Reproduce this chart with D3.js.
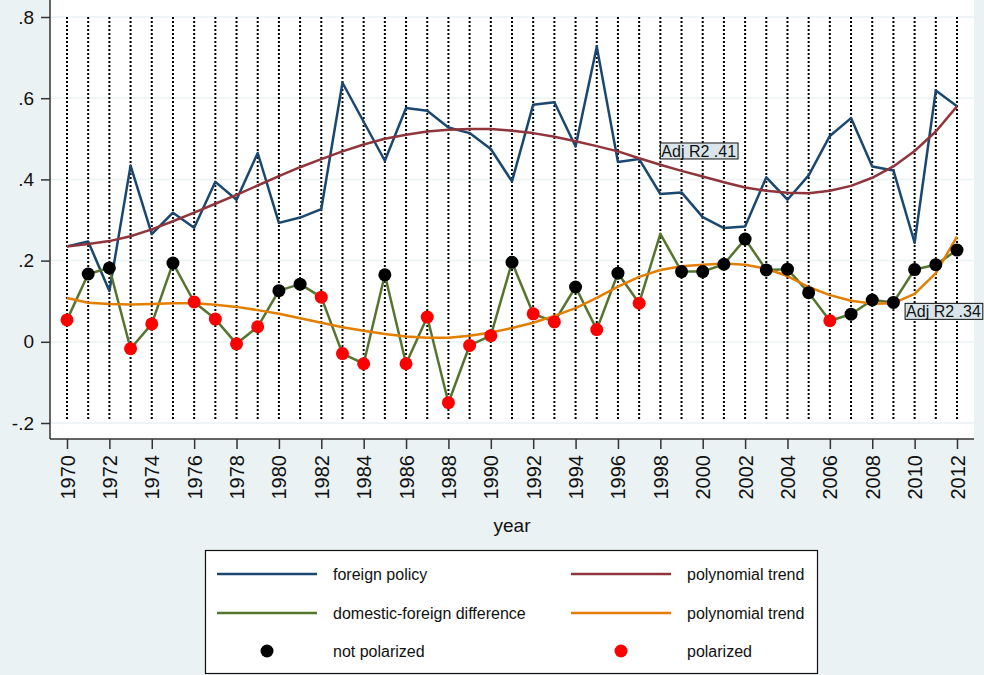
<!DOCTYPE html>
<html>
<head>
<meta charset="utf-8">
<script src="https://cdn.jsdelivr.net/npm/d3@7"></script>
<style>
  body { margin: 0; background: #eaf2f3; }
  svg { display: block; font-family: Arial, "Liberation Sans", sans-serif; }
</style>
</head>
<body>
<svg id="chart"></svg>
<script>
// Data
const years = [1970, 1971, 1972, 1973, 1974, 1975, 1976, 1977, 1978, 1979,
  1980, 1981, 1982, 1983, 1984, 1985, 1986, 1987, 1988, 1989,
  1990, 1991, 1992, 1993, 1994, 1995, 1996, 1997, 1998, 1999,
  2000, 2001, 2002, 2003, 2004, 2005, 2006, 2007, 2008, 2009,
  2010, 2011, 2012];

const foreignPolicy = [0.235, 0.247, 0.125, 0.434, 0.265, 0.318, 0.281, 0.394, 0.35, 0.465,
  0.293, 0.306, 0.327, 0.638, 0.542, 0.446, 0.576, 0.569, 0.528, 0.514,
  0.475, 0.395, 0.584, 0.59, 0.481, 0.727, 0.443, 0.45, 0.364, 0.368,
  0.307, 0.28, 0.284, 0.405, 0.35, 0.41, 0.507, 0.551, 0.432, 0.422,
  0.244, 0.619, 0.58];

const foreignTrend = [0.235, 0.241, 0.248, 0.26, 0.277, 0.297, 0.318, 0.34, 0.362, 0.385,
  0.408, 0.43, 0.45, 0.469, 0.486, 0.5, 0.51, 0.518, 0.522, 0.524,
  0.524, 0.52, 0.514, 0.505, 0.494, 0.482, 0.469, 0.452, 0.436, 0.421,
  0.407, 0.393, 0.38, 0.372, 0.367, 0.366, 0.372, 0.384, 0.404, 0.432,
  0.47, 0.518, 0.58];

const difference = [0.054, 0.167, 0.182, -0.017, 0.044, 0.194, 0.098, 0.056, -0.005, 0.037,
  0.126, 0.142, 0.11, -0.029, -0.054, 0.165, -0.054, 0.061, -0.15, -0.009,
  0.015, 0.196, 0.069, 0.049, 0.135, 0.03, 0.169, 0.095, 0.266, 0.173,
  0.173, 0.191, 0.253, 0.177, 0.179, 0.121, 0.052, 0.068, 0.103, 0.097,
  0.178, 0.19, 0.226];

const differenceTrend = [0.108, 0.096, 0.093, 0.092, 0.093, 0.095, 0.095, 0.091, 0.086, 0.078,
  0.069, 0.058, 0.047, 0.036, 0.027, 0.019, 0.013, 0.01, 0.01, 0.015,
  0.023, 0.034, 0.047, 0.064, 0.083, 0.108, 0.136, 0.16, 0.177, 0.186,
  0.19, 0.193, 0.19, 0.18, 0.162, 0.135, 0.115, 0.101, 0.094, 0.095,
  0.118, 0.169, 0.259];

// "n" = not polarized, "p" = polarized, "" = no marker
const polarization = ["p", "n", "n", "p", "p", "n", "p", "p", "p", "p",
  "n", "n", "p", "p", "p", "n", "p", "p", "p", "p",
  "p", "n", "p", "p", "n", "p", "n", "p", "", "n",
  "n", "n", "n", "n", "n", "n", "p", "n", "n", "n",
  "n", "n", "n"];

const xTicks = [1970, 1972, 1974, 1976, 1978, 1980, 1982, 1984, 1986, 1988, 1990,
  1992, 1994, 1996, 1998, 2000, 2002, 2004, 2006, 2008, 2010, 2012];
const yTicks = [-0.2, 0, 0.2, 0.4, 0.6, 0.8];
const yTickLabels = ["-.2", "0", ".2", ".4", ".6", ".8"];

const annotations = [
  { year: 1998, value: 0.47, text: "Adj R2 .41" },
  { year: 2009.55, value: 0.075, text: "Adj R2 .34" }
];

const legendItems = [
  { label: "foreign policy", type: "line", color: "#1a476f" },
  { label: "polynomial trend", type: "line", color: "#90353b" },
  { label: "domestic-foreign difference", type: "line", color: "#55752f" },
  { label: "polynomial trend", type: "line", color: "#e37e00" },
  { label: "not polarized", type: "dot", color: "#000000" },
  { label: "polarized", type: "dot", color: "#ff0000" }
];

const width = 984, height = 675;
const plot = { left: 50, right: 974, top: 0, bottom: 439 };

const svg = d3.select("#chart").attr("width", width).attr("height", height);

svg.append("rect").attr("width", width).attr("height", height).attr("fill", "#eaf2f3");
svg.append("rect")
  .attr("x", plot.left).attr("y", plot.top)
  .attr("width", plot.right - plot.left).attr("height", plot.bottom - plot.top)
  .attr("fill", "white");

const x = d3.scaleLinear().domain([1970, 2012]).range([67, 957]);
const y = d3.scaleLinear().domain([-0.2, 0.8]).range([423, 17]);

// horizontal gridlines
svg.selectAll(".grid")
  .data(yTicks)
  .enter()
  .append("line")
  .attr("class", "grid")
  .attr("x1", plot.left).attr("x2", plot.right)
  .attr("y1", (d) => y(d)).attr("y2", (d) => y(d))
  .attr("stroke", "#eaf2f3")
  .attr("stroke-width", 1.5);

// dotted year lines
svg.selectAll(".drop")
  .data(years)
  .enter()
  .append("line")
  .attr("class", "drop")
  .attr("x1", (d) => x(d)).attr("x2", (d) => x(d))
  .attr("y1", y(0.8)).attr("y2", y(-0.19))
  .attr("stroke", "black")
  .attr("stroke-width", 2)
  .attr("stroke-dasharray", "2,2");

const line = (vals) => d3.line()
  .x((d, i) => x(years[i]))
  .y((d) => y(d))(vals);

const series = [
  { vals: foreignPolicy, color: "#1a476f" },
  { vals: foreignTrend, color: "#90353b" },
  { vals: difference, color: "#55752f" },
  { vals: differenceTrend, color: "#e37e00" }
];

series.forEach(function (s) {
  svg.append("path")
    .attr("d", line(s.vals))
    .attr("fill", "none")
    .attr("stroke", s.color)
    .attr("stroke-width", 2.5)
    .attr("stroke-linejoin", "round");
});

svg.selectAll(".marker")
  .data(years.filter((d, i) => polarization[i] !== ""))
  .enter()
  .append("circle")
  .attr("class", "marker")
  .attr("cx", (d) => x(d))
  .attr("cy", (d) => y(difference[years.indexOf(d)]))
  .attr("r", 6.5)
  .attr("fill", (d) => polarization[years.indexOf(d)] === "p" ? "#ff0000" : "#000000");

// annotations
annotations.forEach(function (a) {
  const g = svg.append("g").attr("transform", `translate(${x(a.year)}, ${y(a.value)})`);
  const t = g.append("text")
    .attr("x", 1)
    .attr("dy", "0.36em")
    .attr("font-size", "16px")
    .attr("fill", "#111")
    .text(a.text);
  const w = t.node().getComputedTextLength();
  g.insert("rect", "text")
    .attr("x", 0).attr("y", -8)
    .attr("width", w + 3).attr("height", 16)
    .attr("fill", "#d9e5ea")
    .attr("stroke", "#111")
    .attr("stroke-width", 1);
});

// axes
const yAxis = svg.append("g")
  .attr("transform", `translate(${plot.left}, 0)`)
  .call(d3.axisLeft(y).tickValues(yTicks).tickSize(9).tickPadding(7)
    .tickFormat((d, i) => yTickLabels[i]));
yAxis.select(".domain").remove();
yAxis.selectAll("line").attr("stroke", "#333").attr("stroke-width", 1.5);
yAxis.selectAll("text").attr("font-size", "19px").attr("fill", "#111").attr("font-family", "Arial, 'Liberation Sans', sans-serif");

const xAxis = svg.append("g")
  .attr("transform", `translate(0, ${plot.bottom})`)
  .call(d3.axisBottom(x).tickValues(xTicks).tickSize(10).tickFormat(d3.format("d")));
xAxis.select(".domain").remove();
xAxis.selectAll("line").attr("stroke", "#333").attr("stroke-width", 1.5);
xAxis.selectAll("text")
  .attr("y", 0)
  .attr("x", -16)
  .attr("dy", "0.35em")
  .attr("transform", "rotate(-90)")
  .attr("text-anchor", "end")
  .attr("font-size", "20px")
  .attr("fill", "#111")
  .attr("font-family", "Arial, 'Liberation Sans', sans-serif");

svg.append("line")
  .attr("x1", plot.left).attr("x2", plot.left)
  .attr("y1", plot.top).attr("y2", plot.bottom)
  .attr("stroke", "#333").attr("stroke-width", 1.5);
svg.append("line")
  .attr("x1", plot.left).attr("x2", plot.right)
  .attr("y1", plot.bottom).attr("y2", plot.bottom)
  .attr("stroke", "#333").attr("stroke-width", 1.5);

svg.append("text")
  .attr("x", (plot.left + plot.right) / 2)
  .attr("y", 532)
  .attr("text-anchor", "middle")
  .attr("font-size", "19px")
  .attr("fill", "#111")
  .text("year");

// legend
const legend = svg.append("g");
legend.append("rect")
  .attr("x", 205.5).attr("y", 550.5)
  .attr("width", 612).attr("height", 123)
  .attr("fill", "white")
  .attr("stroke", "#111")
  .attr("stroke-width", 1.2);

const colX = [217, 571];
const rowY = [574, 613, 651];

legendItems.forEach(function (item, i) {
  const cx = colX[i % 2];
  const cy = rowY[Math.floor(i / 2)];
  if (item.type === "line") {
    legend.append("line")
      .attr("x1", cx).attr("x2", cx + 100)
      .attr("y1", cy).attr("y2", cy)
      .attr("stroke", item.color)
      .attr("stroke-width", 2.5);
  } else {
    legend.append("circle")
      .attr("cx", cx + 50).attr("cy", cy)
      .attr("r", 6.5)
      .attr("fill", item.color);
  }
  legend.append("text")
    .attr("x", cx + 116)
    .attr("y", cy)
    .attr("dy", "0.35em")
    .attr("font-size", "16px")
    .attr("fill", "#111")
    .text(item.label);
});
</script>
</body>
</html>
